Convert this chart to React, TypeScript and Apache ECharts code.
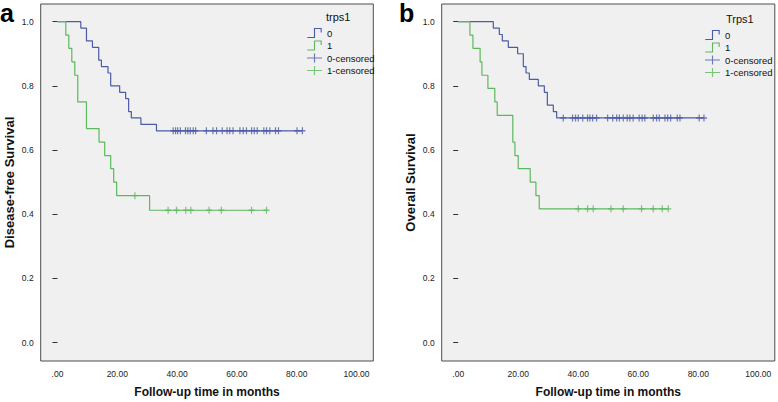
import React, { useEffect, useRef } from "react";
import * as echarts from "echarts";

// ---- Axis ticks / legend ----
const xTicks = [0, 20, 40, 60, 80, 100];
const yTicks = [0, 0.2, 0.4, 0.6, 0.8, 1.0];
const legendNames = ["0", "1", "0-censored", "1-censored"];

// ---- Panel a: Disease-free survival ----
const dfsTimes0 = [0, 7.8, 9.7, 11.7, 13.8, 14.7, 16.9, 17.8, 20.8, 22.8, 23.8, 24.7, 27.9, 33.1];
const dfsSurv0 = [1, 0.98, 0.94, 0.92, 0.88, 0.86, 0.84, 0.8, 0.78, 0.76, 0.72, 0.7, 0.68, 0.66];
const dfsCens0 = [38.7, 39.5, 40.2, 41.1, 42.8, 43.6, 44.4, 45.4, 46.2, 49.8, 52.0, 53.2, 55.1, 56.7, 57.6, 58.7, 61.0, 62.1, 63.2, 64.9, 65.8, 66.8, 69.0, 69.9, 71.0, 72.9, 73.9, 80.1, 81.9];

const dfsTimes1 = [0, 2.8, 3.8, 4.8, 5.8, 6.8, 9.7, 13.9, 15.8, 17.8, 18.8, 19.8, 30.8];
const dfsSurv1 = [1, 0.958, 0.917, 0.875, 0.833, 0.75, 0.667, 0.625, 0.583, 0.542, 0.5, 0.458, 0.4125];
const dfsCens1 = [25.9, 37.0, 39.8, 42.9, 44.6, 50.7, 54.8, 64.9, 69.9];

// ---- Panel b: Overall survival ----
const osTimes0 = [0, 11.7, 13.7, 14.7, 16.7, 19.8, 21.7, 22.6, 23.7, 26.7, 28.7, 29.7, 31.7, 32.8];
const osSurv0 = [1, 0.98, 0.96, 0.94, 0.92, 0.9, 0.86, 0.84, 0.82, 0.8, 0.78, 0.74, 0.72, 0.7];
const osCens0 = [35.0, 38.1, 39.1, 40.0, 41.5, 43.1, 43.9, 44.8, 46.1, 49.8, 51.5, 52.8, 53.7, 55.0, 56.3, 57.2, 58.3, 60.3, 61.3, 62.2, 65.0, 66.1, 67.0, 68.9, 69.8, 70.8, 73.0, 73.9, 80.3, 81.9];

const osTimes1 = [0, 3.9, 4.9, 7.3, 7.9, 9.9, 12.2, 13.0, 18.2, 18.9, 20.0, 24.0, 25.9, 27.0];
const osSurv1 = [1, 0.958, 0.917, 0.875, 0.833, 0.792, 0.75, 0.708, 0.625, 0.583, 0.542, 0.5, 0.458, 0.417];
const osCens1 = [40.0, 43.1, 45.0, 50.9, 55.0, 61.1, 65.0, 68.0, 70.0];

const BLUE = "#4b5ba6";
const GREEN = "#5cb85c";
const SANS = "'Liberation Sans', Arial, sans-serif";

const stepIcon = "path://M0,8H6V0H13V4H12V1H7V9H0Z";
const censIcon = "path://M0,4.5H6V1H7V4.5H13V5.5H7V9H6V5.5H0Z";
const crossSymbol = "path://M4,0H6V4H10V6H6V10H4V6H0V4H4Z";

function stepAt(times: number[], surv: number[], t: number) {
  let v = surv[0];
  for (let i = 0; i < times.length; i++) if (times[i] <= t) v = surv[i];
  return v;
}
function curve(times: number[], surv: number[], cens: number[]) {
  const end = Math.max(times[times.length - 1], ...cens);
  const pts = times.map((t, i) => [t, surv[i]]);
  pts.push([end, surv[surv.length - 1]]);
  return pts;
}
function censPts(times: number[], surv: number[], cens: number[]) {
  return cens.map((t) => [t, stepAt(times, surv, t)]);
}

function lineSeries(name: string, color: string, idx: number, data: number[][]) {
  return {
    name, type: "line", step: "end", xAxisIndex: idx, yAxisIndex: idx,
    data, showSymbol: false, color, lineStyle: { color, width: 1.2 }, z: 2,
  };
}
function censSeries(name: string, color: string, idx: number, data: number[][]) {
  return {
    name, type: "scatter", xAxisIndex: idx, yAxisIndex: idx, data,
    symbol: crossSymbol, symbolSize: [6, 7], color, itemStyle: { color, borderWidth: 0 }, z: 3,
  };
}

function xAxis(idx: number, min: number, max: number) {
  return {
    type: "value", gridIndex: idx, min, max,
    axisLine: { show: false }, axisTick: { show: false }, splitLine: { show: false },
    axisLabel: {
      customValues: xTicks, margin: 8, fontSize: 8.5, fontFamily: SANS, color: "#222",
      formatter: (v: number) => (v === 0 ? ".00" : v.toFixed(2)),
    },
    name: "Follow-up time in months", nameLocation: "middle", nameGap: 25,
    nameTextStyle: { fontWeight: "bold", fontSize: 12, fontFamily: SANS, color: "#111" },
  };
}
function yAxis(idx: number, name: string) {
  return {
    type: "value", gridIndex: idx, min: -0.057, max: 1.055,
    axisLine: { show: false }, splitLine: { show: false },
    axisTick: { show: true, customValues: yTicks, length: 5, lineStyle: { color: "#333" } },
    axisLabel: {
      customValues: yTicks, margin: 7, fontSize: 8.5, fontFamily: SANS, color: "#222",
      formatter: (v: number) => v.toFixed(1),
    },
    name, nameLocation: "middle", nameGap: 25,
    nameTextStyle: { fontWeight: "bold", fontSize: 13, fontFamily: SANS, color: "#111" },
  };
}
function legend(left: number, top: number) {
  return {
    left, top, orient: "vertical", padding: 0, itemWidth: 15, itemHeight: 10, itemGap: 2.5,
    selectedMode: false, itemStyle: { borderWidth: 0 },
    textStyle: { fontSize: 9.5, fontFamily: SANS, color: "#111" },
    data: legendNames.map((n) => ({ name: n, icon: n.indexOf("censored") >= 0 ? censIcon : stepIcon })),
  };
}

export default function App() {
  const ref = useRef<HTMLDivElement>(null);
  useEffect(() => {
    if (!ref.current) return;
    const chart = echarts.init(ref.current, null, { renderer: "svg" });
    chart.setOption({
      animation: false,
      title: [
        { text: "a", left: 0, top: 0, padding: 0, textStyle: { fontSize: 25, fontWeight: "bold", fontFamily: SANS, color: "#000" } },
        { text: "b", left: 399, top: 0, padding: 0, textStyle: { fontSize: 25, fontWeight: "bold", fontFamily: SANS, color: "#000" } },
        { text: "trps1", left: 326, top: 11, padding: 0, textStyle: { fontSize: 11, fontWeight: "normal", fontFamily: SANS, color: "#111" } },
        { text: "Trps1", left: 726, top: 13, padding: 0, textStyle: { fontSize: 11, fontWeight: "normal", fontFamily: SANS, color: "#111" } },
      ],
      legend: [legend(307, 28), legend(705, 30)],
      grid: [
        { left: 40.7, top: 4, width: 332.6, height: 357, outerBoundsMode: "none", show: true, backgroundColor: "#f0f0f0", borderColor: "#4d4d4d", borderWidth: 1 },
        { left: 441.7, top: 4, width: 333.1, height: 357, outerBoundsMode: "none", show: true, backgroundColor: "#f0f0f0", borderColor: "#4d4d4d", borderWidth: 1 },
      ],
      xAxis: [xAxis(0, -5.6, 105.6), xAxis(1, -5.5, 105.5)],
      yAxis: [yAxis(0, "Disease-free Survival"), yAxis(1, "Overall Survival")],
      series: [
        lineSeries("0", BLUE, 0, curve(dfsTimes0, dfsSurv0, dfsCens0)),
        lineSeries("1", GREEN, 0, curve(dfsTimes1, dfsSurv1, dfsCens1)),
        censSeries("0-censored", BLUE, 0, censPts(dfsTimes0, dfsSurv0, dfsCens0)),
        censSeries("1-censored", GREEN, 0, censPts(dfsTimes1, dfsSurv1, dfsCens1)),
        lineSeries("0", BLUE, 1, curve(osTimes0, osSurv0, osCens0)),
        lineSeries("1", GREEN, 1, curve(osTimes1, osSurv1, osCens1)),
        censSeries("0-censored", BLUE, 1, censPts(osTimes0, osSurv0, osCens0)),
        censSeries("1-censored", GREEN, 1, censPts(osTimes1, osSurv1, osCens1)),
      ],
    });
    return () => chart.dispose();
  }, []);
  return (
    <div
      ref={ref}
      style={{ position: "fixed", left: 0, top: 0, width: 778, height: 402, background: "#fff" }}
    />
  );
}
